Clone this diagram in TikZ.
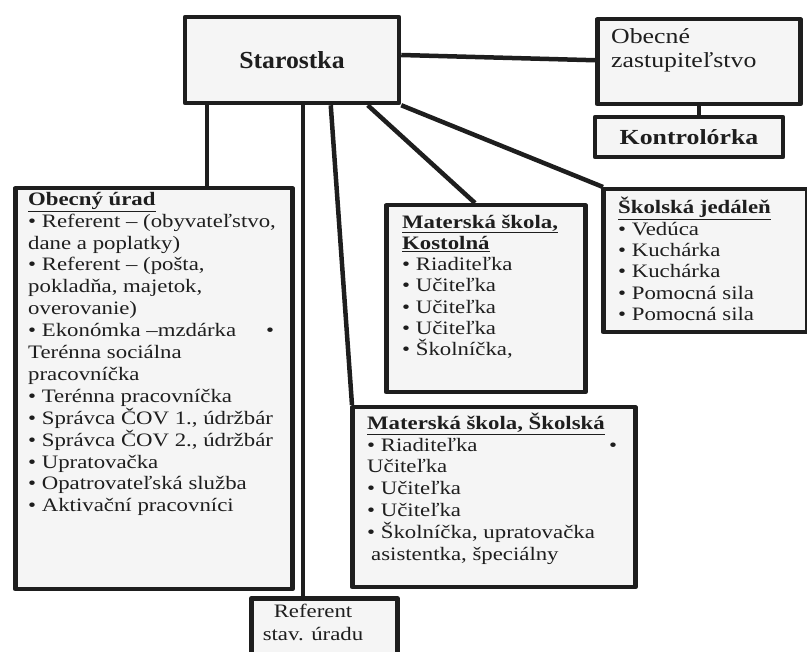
\documentclass[tikz,border=0pt]{standalone}
\usepackage{fontspec}
\setmainfont{Liberation Serif}[FakeStretch=1.2]
\newfontfamily\starfont{Liberation Serif}[FakeStretch=1.05]
\usetikzlibrary{calc}
\definecolor{ink}{HTML}{1E1E1E}
\definecolor{paper}{HTML}{F5F5F5}
\tikzset{
  orgbox/.style={draw=ink, line width=4.5pt, fill=paper, rectangle, inner sep=0pt, anchor=north west, line join=round},
  txt/.style={inner sep=0pt, anchor=north west, align=left, font=\fontsize{19}{21.7}\selectfont, text=ink},
  link/.style={draw=ink, line width=4.5pt},
}
\begin{document}
\begin{tikzpicture}[x=1pt, y=-1pt]
\useasboundingbox (0,0) rectangle (807,652);
\clip (0,0) rectangle (807,652);
% boxes
\node[orgbox, minimum width=214pt, minimum height=86pt, anchor=center, font=\starfont\bfseries\fontsize{24.5}{27}\selectfont, text=ink] (star) at (292,60) {Starostka};
\node[orgbox, minimum width=203pt, minimum height=85pt] (zast) at (595,17) {};
\node[orgbox, minimum width=188pt, minimum height=40pt, anchor=center, font=\bfseries\fontsize{21.5}{24}\selectfont, text=ink] (kontr) at (689,137) {Kontrolórka};
\node[orgbox, minimum width=277pt, minimum height=401pt] (obu) at (13,186) {};
\node[orgbox, minimum width=199pt, minimum height=187pt] (kost) at (384,203) {};
\node[orgbox, minimum width=204pt, minimum height=143pt] (jed) at (601,187) {};
\node[orgbox, minimum width=283pt, minimum height=180pt] (msk) at (350,405) {};
\node[orgbox, minimum width=146pt, minimum height=80pt] (ref) at (249,596) {};
% texts
\node[txt, font=\fontsize{21.5}{24}\selectfont] (zasttxt) at (611,26.2) {\strut Obecné\\zastupiteľstvo};
\node[txt, font=\fontsize{19}{21.9}\selectfont] (obutxt) at (28,189.7) {\strut\textbf{\underline{Obecný úrad}}\\
• Referent – (obyvateľstvo,\\
dane a poplatky)\\
• Referent – (pošta,\\
pokladňa, majetok,\\
overovanie)\\
\makebox[246pt][l]{• Ekonómka –mzdárka\hfill•}\\
Terénna sociálna\\
pracovníčka\\
• Terénna pracovníčka\\
• Správca ČOV 1., údržbár\\
• Správca ČOV 2., údržbár\\
• Upratovačka\\
• Opatrovateľská služba\\
• Aktivační pracovníci};
\node[txt, font=\fontsize{19}{21.2}\selectfont] (kosttxt) at (402,213.2) {\strut\textbf{\underline{Materská škola,}}\\
\textbf{\underline{Kostolná}}\\
• Riaditeľka\\
• Učiteľka\\
• Učiteľka\\
• Učiteľka\\
• Školníčka,};
\node[txt, font=\fontsize{19}{21.4}\selectfont] (jedtxt) at (618,197) {\strut\textbf{\underline{Školská jedáleň}}\\
• Vedúca\\
• Kuchárka\\
• Kuchárka\\
• Pomocná sila\\
• Pomocná sila};
\node[txt, font=\fontsize{19}{21.8}\selectfont] (msktxt) at (367,412.7) {\strut\textbf{\underline{Materská škola, Školská}}\\
\makebox[250pt][l]{• Riaditeľka\hfill•}\\
Učiteľka\\
• Učiteľka\\
• Učiteľka\\
• Školníčka, upratovačka\\
\hspace{4pt}asistentka, špeciálny};
\node[txt, anchor=north, align=center, font=\fontsize{19}{23}\selectfont] (reftxt) at (313,600.9) {\strut Referent\\stav. úradu};
% connectors
\draw[link] ([yshift=5pt]star.east) -- ([yshift=1.5pt]zast.west);
\draw[link] (zast.south) -- (zast.south |- kontr.north);
\draw[link] ([xshift=24pt]star.south west) -- ([xshift=24pt]star.south west |- obu.north);
\draw[link] ([xshift=120pt]star.south west) -- ([xshift=120pt]star.south west |- ref.north);
\draw[link] ([xshift=148pt]star.south west) -- ([xshift=2pt]msk.north west);
\draw[link] ([xshift=185pt]star.south west) -- ([xshift=91pt]kost.north west);
\draw[link] (star.south east) -- ([xshift=2pt]jed.north west);
\end{tikzpicture}
\end{document}
